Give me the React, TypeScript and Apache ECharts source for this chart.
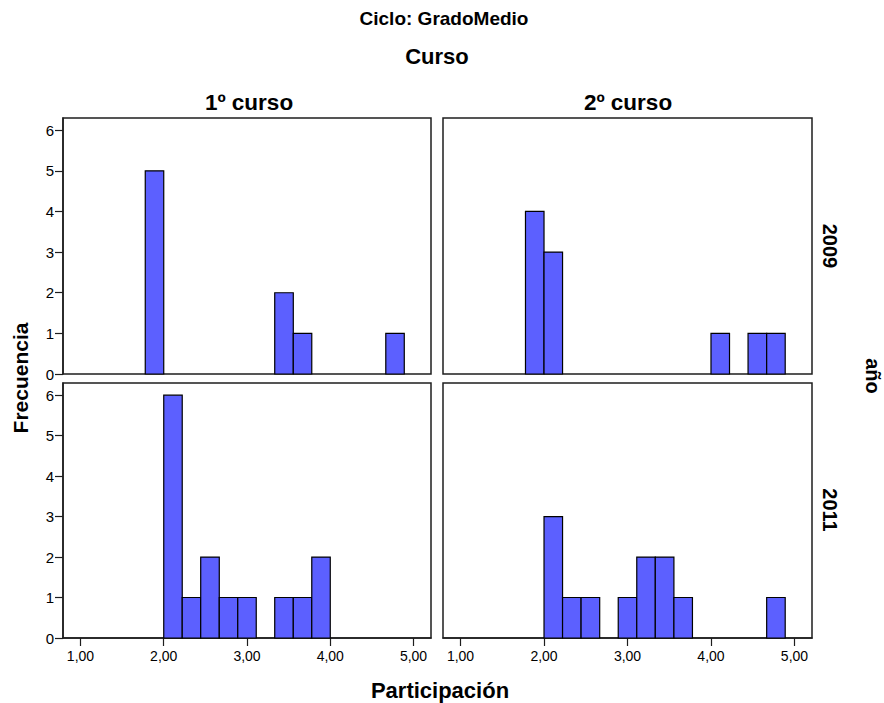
import React, { useEffect, useRef } from "react";
import * as echarts from "echarts";

// Histogram bin edges (Participación)
const binEdges = [1.778, 2.0, 2.222, 2.444, 2.667, 2.889, 3.111, 3.333, 3.556, 3.778, 4.0, 4.222, 4.444, 4.667, 4.889];

// Frequencies per bin for each panel
const curso1_2009 = [5, 0, 0, 0, 0, 0, 0, 2, 1, 0, 0, 0, 0, 1];
const curso2_2009 = [4, 3, 0, 0, 0, 0, 0, 0, 0, 0, 1, 0, 1, 1];
const curso1_2011 = [0, 6, 1, 2, 1, 1, 0, 1, 1, 2, 0, 0, 0, 0];
const curso2_2011 = [0, 3, 1, 1, 0, 1, 2, 2, 1, 0, 0, 0, 0, 1];

const xTicks = [1, 2, 3, 4, 5];
const yTicks = [0, 1, 2, 3, 4, 5, 6];

const columnLabels = ["1º curso", "2º curso"];
const rowLabels = ["2009", "2011"];

const FONT = "'Liberation Sans', Arial, sans-serif";
const BAR = "#5C60FF";
const FRAME = "#1e1e1e";

const panels = [
  { counts: curso1_2009, left: 63, top: 118, width: 368, height: 256, showX: false, showY: true },
  { counts: curso2_2009, left: 443, top: 118, width: 369, height: 256, showX: false, showY: false },
  { counts: curso1_2011, left: 63, top: 383, width: 368, height: 255, showX: true, showY: true },
  { counts: curso2_2011, left: 443, top: 383, width: 369, height: 255, showX: true, showY: false },
];

function toBins(counts: number[]) {
  const out: number[][] = [];
  counts.forEach((c, i) => {
    if (c > 0) out.push([binEdges[i], binEdges[i + 1], c]);
  });
  return out;
}

export default function App() {
  const ref = useRef<HTMLDivElement>(null);
  useEffect(() => {
    document.body.style.margin = "0";
    if (!ref.current) return;
    const chart = echarts.init(ref.current, null, { renderer: "svg" });

    const grid = panels.map((p) => ({
      left: p.left,
      top: p.top,
      width: p.width,
      height: p.height,
      show: true,
      borderColor: FRAME,
      borderWidth: 1.5,
      backgroundColor: "#fff",
      containLabel: false,
    }));

    const xAxis = panels.map((p, i) => ({
      type: "value",
      gridIndex: i,
      min: 0.79,
      max: 5.21,
      splitLine: { show: false },
      axisLine: { show: p.showX, lineStyle: { color: FRAME, width: 1.5 } },
      axisTick: {
        show: p.showX,
        customValues: xTicks,
        length: 8,
        inside: false,
        lineStyle: { color: FRAME, width: 1.2 },
      },
      axisLabel: {
        show: p.showX,
        customValues: xTicks,
        margin: 11,
        color: "#000",
        fontFamily: FONT,
        fontSize: 14,
        formatter: (v: number) => v.toFixed(2).replace(".", ","),
      },
    }));

    const yAxis = panels.map((p, i) => ({
      type: "value",
      gridIndex: i,
      min: 0,
      max: 6.3,
      splitLine: { show: false },
      axisLine: { show: p.showY, lineStyle: { color: FRAME, width: 1.5 } },
      axisTick: {
        show: p.showY,
        customValues: yTicks,
        length: 8,
        inside: false,
        lineStyle: { color: FRAME, width: 1.2 },
      },
      axisLabel: {
        show: p.showY,
        customValues: yTicks,
        margin: 9,
        color: "#000",
        fontFamily: FONT,
        fontSize: 15,
      },
    }));

    const series = panels.map((p, i) => ({
      type: "custom",
      xAxisIndex: i,
      yAxisIndex: i,
      encode: { x: [0, 1], y: 2 },
      data: toBins(p.counts),
      renderItem: (params: any, api: any) => {
        const x0 = api.value(0);
        const x1 = api.value(1);
        const c = api.value(2);
        const p0 = api.coord([x0, 0]);
        const p1 = api.coord([x1, c]);
        return {
          type: "rect",
          shape: { x: p0[0], y: p1[1], width: p1[0] - p0[0], height: p0[1] - p1[1] },
          style: { fill: BAR, stroke: "#000", lineWidth: 1.2 },
        };
      },
    }));

    const bold = (fontSize: number) => ({
      fill: "#000",
      fontFamily: FONT,
      fontWeight: "bold",
      fontSize,
      textAlign: "center",
      textVerticalAlign: "middle",
    });

    const graphic = [
      { type: "text", x: 444, y: 18, style: { ...bold(19), text: "Ciclo: GradoMedio" } },
      { type: "text", x: 437, y: 56, style: { ...bold(22), text: "Curso" } },
      { type: "text", x: 249, y: 102, style: { ...bold(22.5), text: columnLabels[0] } },
      { type: "text", x: 628, y: 102, style: { ...bold(22.5), text: columnLabels[1] } },
      { type: "text", x: 830, y: 246, rotation: -Math.PI / 2, style: { ...bold(20), text: rowLabels[0] } },
      { type: "text", x: 830, y: 510, rotation: -Math.PI / 2, style: { ...bold(20), text: rowLabels[1] } },
      { type: "text", x: 873, y: 376, rotation: -Math.PI / 2, style: { ...bold(20), text: "año" } },
      { type: "text", x: 20, y: 378, rotation: Math.PI / 2, style: { ...bold(21), text: "Frecuencia" } },
      { type: "text", x: 440, y: 690, style: { ...bold(22), text: "Participación" } },
    ];

    chart.setOption({
      animation: false,
      backgroundColor: "#fff",
      grid,
      xAxis,
      yAxis,
      series,
      graphic,
    } as any);

    return () => chart.dispose();
  }, []);

  return <div ref={ref} style={{ width: 884, height: 703 }} />;
}
